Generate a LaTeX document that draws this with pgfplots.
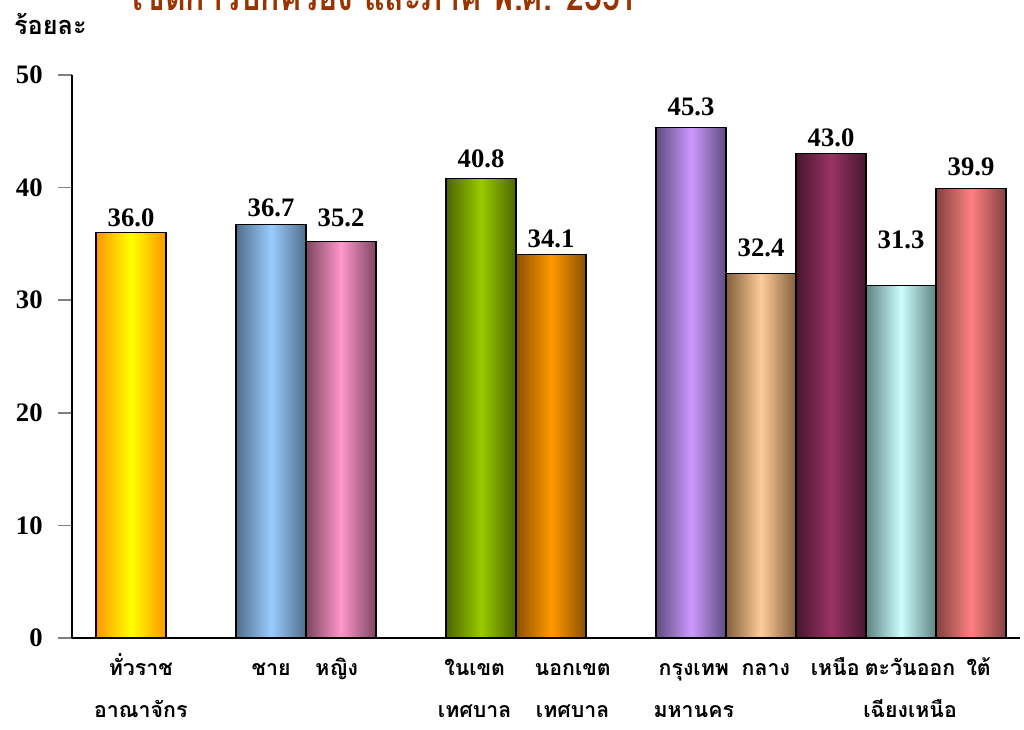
\documentclass[border=0pt]{standalone}
\usepackage{pgfplots}
\pgfplotsset{compat=1.18}
\usepackage{graphicx}
\usepackage{fontspec}
\setmainfont{Liberation Serif}
\newfontfamily\thaifont[Script=Thai]{Loma}

\definecolor{titlecol}{RGB}{153,51,0}
% bar colours: edge / middle
\definecolor{aE}{RGB}{255,150,0}   \definecolor{aM}{RGB}{255,255,0}
\definecolor{bE}{RGB}{80,110,140}  \definecolor{bM}{RGB}{153,204,255}
\definecolor{cE}{RGB}{125,70,95}   \definecolor{cM}{RGB}{255,150,204}
\definecolor{dE}{RGB}{75,100,0}    \definecolor{dM}{RGB}{153,204,0}
\definecolor{eE}{RGB}{140,80,0}    \definecolor{eM}{RGB}{255,153,0}
\definecolor{fE}{RGB}{95,75,130}   \definecolor{fM}{RGB}{204,153,255}
\definecolor{gE}{RGB}{130,95,60}   \definecolor{gM}{RGB}{255,204,153}
\definecolor{hE}{RGB}{70,22,45}    \definecolor{hM}{RGB}{153,51,102}
\definecolor{iE}{RGB}{95,130,130}  \definecolor{iM}{RGB}{204,255,255}
\definecolor{jE}{RGB}{130,65,65}   \definecolor{jM}{RGB}{255,128,128}

\newcommand\st{\rule{0pt}{18pt}}

\pgfplotsset{
  shadebar/.style n args={3}{ybar, bar width=1, draw=black, line width=0.8pt,
    left color=#1, right color=#1, middle color=#2,
    nodes near coords={\pgfmathprintnumber[fixed,fixed zerofill,precision=1]{\pgfplotspointmeta}},
    nodes near coords style={anchor=south, inner sep=0pt, yshift=#3*0.75pt, text=black,
      font=\bfseries\fontsize{20}{22}\selectfont}},
}

\begin{document}
\begin{tikzpicture}
\begin{axis}[
    at={(0,0)}, anchor=south west,
    scale only axis,
    width=711pt, height=422.25pt,
    xmin=-0.843, xmax=12.7,
    ymin=0, ymax=50,
    axis lines*=left,
    axis line style={line width=1.1pt},
    ytick={0,10,20,30,40,50},
    tick align=outside,
    major tick length=10.5pt,
    ytick style={line width=1.1pt},
    xtick={0.14,2,2.94,4.91,6.31,8.04,9.07,10.06,11.13,12.11},
    xticklabels={\st ทั่วราช\\อาณาจักร, \st ชาย, \st หญิง, \st ในเขต\\เทศบาล, \st นอกเขต\\เทศบาล,
                 \st กรุงเทพ\\มหานคร, \st กลาง, \st เหนือ, \st ตะวันออก\\เฉียงเหนือ, \st ใต้},
    xtick style={draw=none},
    xticklabel style={align=center, anchor=north, inner sep=0pt, yshift=0.75pt,
      font=\thaifont\bfseries\fontsize{16}{32}\selectfont},
    yticklabel style={font=\bfseries\fontsize{20}{22}\selectfont, xshift=-8pt},
    /pgf/number format/assume math mode=true,
]
\addplot[shadebar={aE}{aM}{5}]  coordinates {(0,36.0)};
\addplot[shadebar={bE}{bM}{7}]  coordinates {(2,36.7)};
\addplot[shadebar={cE}{cM}{14}] coordinates {(3,35.2)};
\addplot[shadebar={dE}{dM}{10}] coordinates {(5,40.8)};
\addplot[shadebar={eE}{eM}{6}]  coordinates {(6,34.1)};
\addplot[shadebar={fE}{fM}{12}] coordinates {(8,45.3)};
\addplot[shadebar={gE}{gM}{16}] coordinates {(9,32.4)};
\addplot[shadebar={hE}{hM}{6}]  coordinates {(10,43.0)};
\addplot[shadebar={iE}{iM}{36}] coordinates {(11,31.3)};
\addplot[shadebar={jE}{jM}{12}] coordinates {(12,39.9)};
\draw[line width=1.1pt] (axis cs:-0.843,0) -- ++(0,-10.5pt);
\end{axis}
\node[anchor=base west, font=\thaifont\bfseries\fontsize{19}{22}\selectfont] at (-47pt,452.25pt) {ร้อยละ};
\node[anchor=base, text=titlecol, font=\thaifont\bfseries\fontsize{30}{36}\selectfont] at (234.75pt,470.25pt) {\scalebox{0.8}[1]{เขตการปกครอง และภาค พ.ศ. 2551}};
\pgfresetboundingbox
\useasboundingbox (-54pt,-68.25pt) rectangle (714pt,478.5pt);
\end{tikzpicture}
\end{document}
